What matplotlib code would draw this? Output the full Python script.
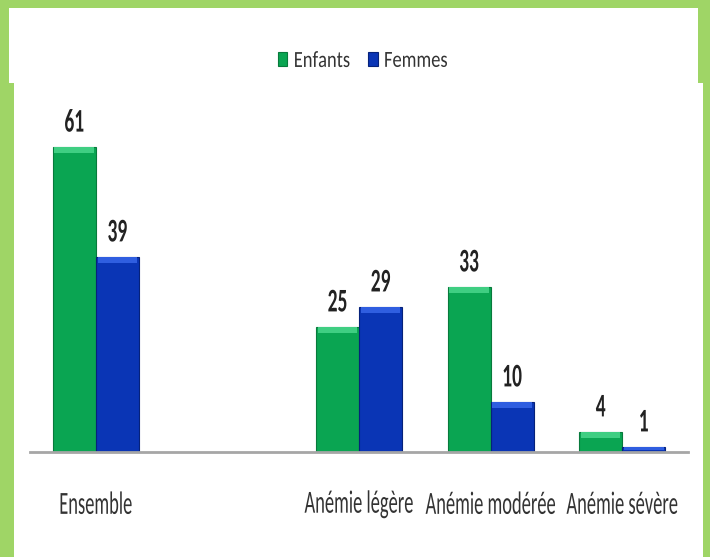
import matplotlib
matplotlib.use("Agg")
import matplotlib.pyplot as plt
from matplotlib.patches import Rectangle
from matplotlib.patheffects import AbstractPathEffect
from matplotlib.transforms import Affine2D
import numpy as np

categories = ["Ensemble", "", "Anémie légère", "Anémie modérée", "Anémie sévère"]
enfants = [61, None, 25, 33, 4]
femmes = [39, None, 29, 10, 1]
series_names = ["Enfants", "Femmes"]

green = "#0aa552"
green_top = "#3fce82"
green_edge = "#087a3c"
blue = "#0a35b5"
blue_top = "#2f5ee0"
blue_edge = "#06227a"
frame_green = "#9fd566"

FONT = ["Carlito", "DejaVu Sans"]


class Stretch(AbstractPathEffect):
    """Scale glyph outlines about their own centre (tall, narrow lettering)."""

    def __init__(self, sx=1.0, sy=1.0):
        super().__init__()
        self.sx, self.sy = sx, sy

    def draw_path(self, renderer, gc, tpath, affine, rgbFace=None):
        ext = tpath.get_extents()
        cx = (ext.x0 + ext.x1) / 2
        cy = (ext.y0 + ext.y1) / 2
        pre = (Affine2D().translate(-cx, -cy)
               .scale(self.sx, self.sy).translate(cx, cy))
        renderer.draw_path(gc, tpath, pre + affine, rgbFace)


fig = plt.figure(figsize=(7.10, 5.57), dpi=100)
fig.patch.set_facecolor(frame_green)

# white panels (slightly offset upper and lower sheets)
W, H = 710, 557
fig.add_artist(Rectangle((9 / W, 1 - 83 / H), (698 - 9) / W, (83 - 8) / H,
                         transform=fig.transFigure, facecolor="white", edgecolor="none", zorder=0))
fig.add_artist(Rectangle((14 / W, 0), (703 - 14) / W, 1 - 83 / H,
                         transform=fig.transFigure, facecolor="white", edgecolor="none", zorder=0))

ax = fig.add_axes([30 / W, 1 - 452 / H, 658 / W, (452 - 92) / H])
ax.set_facecolor("none")
ax.set_xlim(-0.5, len(categories) - 0.5)
ax.set_ylim(0, 72)

x = np.arange(len(categories))
bw = 0.327


def draw_series(offset, values, face, top, edge, label):
    xs = [xi + offset for xi, v in zip(x, values) if v is not None]
    vs = [v for v in values if v is not None]
    ax.bar(xs, vs, width=bw, color=face, edgecolor=edge, linewidth=0.8,
           label=label, zorder=2)
    # bevel highlight along the top of each bar
    band = [min(1.2, v * 0.5) for v in vs]
    ax.bar(xs, band, bottom=[v - b for v, b in zip(vs, band)], width=bw * 0.92,
           color=top, edgecolor="none", zorder=3)
    for xi, v in zip(xs, vs):
        ax.text(xi, v + 5.0, f"{v}", ha="center", va="center", fontsize=14,
                fontweight="bold", family=FONT, color="#222222", zorder=4,
                path_effects=[Stretch(1.0, 1.7)])


draw_series(-bw / 2, enfants, green, green_top, green_edge, series_names[0])
draw_series(bw / 2, femmes, blue, blue_top, blue_edge, series_names[1])

for s in ["top", "right", "left"]:
    ax.spines[s].set_visible(False)
ax.spines["bottom"].set_color("#a6a6a6")
ax.spines["bottom"].set_linewidth(2)
ax.set_yticks([])
ax.set_xticks(x)
ax.set_xticklabels(categories, family=FONT, fontsize=13.3, color="#333333",
                   va="center", path_effects=[Stretch(1.0, 1.75)])
ax.tick_params(axis="x", length=0, pad=37.5)

leg = fig.legend(loc="center", bbox_to_anchor=(363 / W, 1 - 60 / H), ncol=2,
                 frameon=False, prop={"family": FONT, "size": 13.3},
                 handlelength=0.5, handleheight=0.85, handletextpad=0.34,
                 columnspacing=1.0, labelcolor="#333333")
for t in leg.get_texts():
    t.set_path_effects([Stretch(1.0, 1.25)])

fig.savefig("out.png", dpi=100, facecolor=fig.get_facecolor())
